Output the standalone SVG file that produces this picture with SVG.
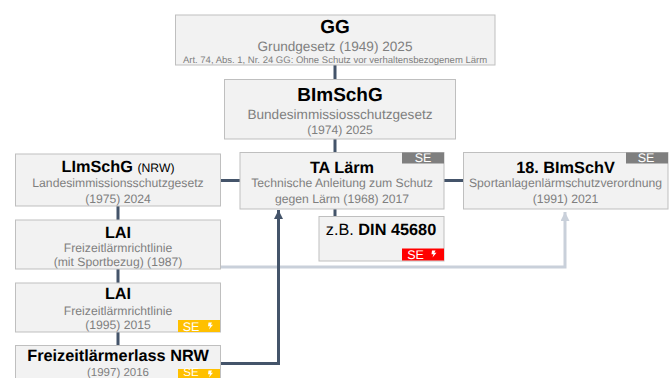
<svg xmlns="http://www.w3.org/2000/svg" width="670" height="378" viewBox="0 0 670 378">
<style>
text{font-family:"Liberation Sans",Arial,sans-serif;text-anchor:middle;text-rendering:geometricPrecision}
.box{fill:#f2f2f2;stroke:#bfbfbf;stroke-width:1}
.t{font-weight:bold;fill:#000;font-size:16.300px}
.h{font-weight:bold;fill:#000;font-size:19px}
.s{fill:#7f7f7f;font-size:12.200px}
.m{fill:#7f7f7f;font-size:13.600px}
.se{fill:#fff;font-size:12.500px}
.c{fill:none;stroke:#44546a;stroke-width:3}
.l{fill:none;stroke:#c9d0da;stroke-width:3}
</style>
<defs>
<marker id="ad" markerUnits="userSpaceOnUse" markerWidth="10" markerHeight="9" refX="9" refY="4.500" orient="auto"><path d="M0 0L9 4.500L0 9z" fill="#44546a"/></marker>
<marker id="al" markerUnits="userSpaceOnUse" markerWidth="10" markerHeight="9" refX="9" refY="4.500" orient="auto"><path d="M0 0L9 4.500L0 9z" fill="#c9d0da"/></marker>
<path id="bolt" d="M1.500 0H5L3.800 2.200H6L2 7L3 3.800H1z" fill="#fff"/>
</defs>
<g id="connectors">
<path class="c" d="M335 65V80M335 139V153M335 209V217"/>
<path class="c" d="M220 180.500H240M444 180.500H463"/>
<path class="c" d="M118 206V221M118 269V284M118 332V346"/>
<path class="l" d="M220 267H565V212" marker-end="url(#al)"/>
<path class="c" d="M220 363.500H278.500V210" marker-end="url(#ad)"/>
</g>
<g id="gg">
<rect class="box" x="175.500" y="15" width="319.500" height="50"/>
<text class="h" x="335" y="33">GG</text>
<text class="m" x="335" y="51">Grundgesetz (1949) 2025</text>
<text x="335" y="63" fill="#7f7f7f" font-size="9.500">Art. 74, Abs. 1, Nr. 24 GG: Ohne Schutz vor verhaltensbezogenem Lärm</text>
</g>
<g id="bimschg">
<rect class="box" x="224.500" y="79.500" width="231" height="59.500"/>
<text class="h" x="340" y="101">BImSchG</text>
<text class="m" x="340" y="119">Bundesimmissiosschutzgesetz</text>
<text class="s" x="340" y="134">(1974) 2025</text>
</g>
<g id="ta-laerm">
<rect class="box" x="240" y="152.500" width="204" height="56.500"/>
<rect x="402" y="152.500" width="42" height="11" fill="#7f7f7f"/>
<text class="se" x="423" y="162">SE</text>
<text class="t" x="342" y="173">TA Lärm</text>
<text class="s" x="342" y="187">Technische Anleitung zum Schutz</text>
<text class="s" x="342" y="203">gegen Lärm (1968) 2017</text>
</g>
<g id="din">
<rect class="box" x="319" y="216.500" width="125" height="44.500"/>
<text x="381" y="235" font-size="16.300" fill="#000">z.B. <tspan font-weight="bold">DIN 45680</tspan></text>
<rect x="402" y="248.500" width="42" height="12" fill="#ff0000"/>
<text class="se" x="415.500" y="259">SE</text>
<use href="#bolt" x="430.500" y="250.500"/>
</g>
<g id="bimschv18">
<rect class="box" x="463.500" y="152.500" width="204.500" height="56.500"/>
<rect x="626" y="152.500" width="42" height="11" fill="#7f7f7f"/>
<text class="se" x="646" y="162">SE</text>
<text class="t" x="565.500" y="173">18. BImSchV</text>
<text class="s" x="565.500" y="187">Sportanlagenlärmschutzverordnung</text>
<text class="s" x="565.500" y="203">(1991) 2021</text>
</g>
<g id="limschg">
<rect class="box" x="15.500" y="154" width="205" height="52"/>
<text x="118" y="172" font-size="16.300" fill="#000"><tspan font-weight="bold">LImSchG</tspan> <tspan font-size="12.200">(NRW)</tspan></text>
<text class="s" x="118" y="187">Landesimmissionsschutzgesetz</text>
<text class="s" x="118" y="203">(1975) 2024</text>
</g>
<g id="lai-1987">
<rect class="box" x="15.500" y="220" width="205" height="49"/>
<text class="t" x="118" y="238">LAI</text>
<text class="s" x="118" y="252">Freizeitlärmrichtlinie</text>
<text class="s" x="118" y="266">(mit Sportbezug) (1987)</text>
</g>
<g id="lai-1995">
<rect class="box" x="15.500" y="283" width="205" height="49"/>
<text class="t" x="118" y="299">LAI</text>
<text class="s" x="118" y="315">Freizeitlärmrichtlinie</text>
<text class="s" x="118" y="329">(1995) 2015</text>
<rect x="178" y="320" width="42" height="12" fill="#ffc000"/>
<text class="se" x="191" y="330.500">SE</text>
<use href="#bolt" x="207" y="322.500"/>
</g>
<g id="freizeitlaermerlass">
<rect class="box" x="15.500" y="345.500" width="205" height="40"/>
<text class="t" x="118" y="361">Freizeitlärmerlass NRW</text>
<text x="118" y="375.500" fill="#7f7f7f" font-size="11.500">(1997) 2016</text>
<rect x="178" y="369" width="42" height="12" fill="#ffc000"/>
<text x="191" y="375.500" fill="#fff" font-size="11.500">SE</text>
<use href="#bolt" x="207" y="370.500"/>
</g>
</svg>
